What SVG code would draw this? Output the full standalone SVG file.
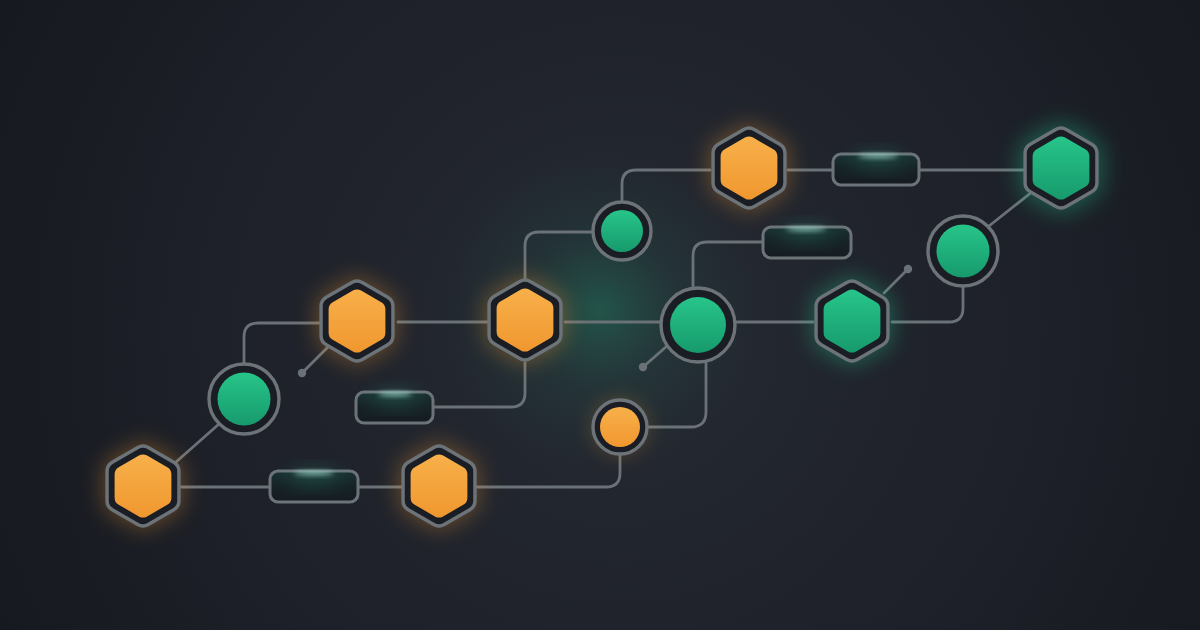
<svg xmlns="http://www.w3.org/2000/svg" width="1200" height="630" viewBox="0 0 1200 630">
<defs>
  <radialGradient id="bg" cx="620" cy="330" r="720" gradientUnits="userSpaceOnUse">
    <stop offset="0" stop-color="#262a33"/>
    <stop offset="0.6" stop-color="#1d2028"/>
    <stop offset="1" stop-color="#15181e"/>
  </radialGradient>
  <radialGradient id="cglow" cx="600" cy="310" r="160" gradientUnits="userSpaceOnUse">
    <stop offset="0" stop-color="#1f8a68" stop-opacity="0.45"/>
    <stop offset="0.5" stop-color="#1f6e58" stop-opacity="0.15"/>
    <stop offset="1" stop-color="#1f6e58" stop-opacity="0"/>
  </radialGradient>
  <linearGradient id="og" x1="0" y1="0" x2="0" y2="1">
    <stop offset="0" stop-color="#f8b04a"/>
    <stop offset="1" stop-color="#f0972f"/>
  </linearGradient>
  <linearGradient id="gg" x1="0" y1="0" x2="0" y2="1">
    <stop offset="0" stop-color="#27c58a"/>
    <stop offset="1" stop-color="#179a6d"/>
  </linearGradient>
  <linearGradient id="pg" x1="0" y1="0" x2="0" y2="1">
    <stop offset="0" stop-color="#1a3233"/>
    <stop offset="0.5" stop-color="#172226"/>
    <stop offset="1" stop-color="#161c21"/>
  </linearGradient>
  <filter id="blur" x="-1" y="-1" width="3" height="3"><feGaussianBlur stdDeviation="10"/></filter>
  <filter id="blur2" x="-1" y="-1" width="3" height="3"><feGaussianBlur stdDeviation="2.5"/></filter>
  <path id="hexO" d="M5.2,-38.5 L30.74,-23.75 Q35.94,-20.75 35.94,-14.75 L35.94,14.75 Q35.94,20.75 30.74,23.75 L5.2,38.5 Q0,41.5 -5.2,38.5 L-30.74,23.75 Q-35.94,20.75 -35.94,14.75 L-35.94,-14.75 Q-35.94,-20.75 -30.74,-23.75 L-5.2,-38.5 Q0,-41.5 5.2,-38.5 Z"/>
  <style>
    .edge{fill:none;stroke:#6b7277;stroke-width:2.8;stroke-linecap:round}
    .dot{fill:#6b7277}
    .ring{fill:#1a1d23;stroke:#6d7479;stroke-width:3.4;stroke-linejoin:round}
    .oin{fill:url(#og)}
    .gin{fill:url(#gg)}
    .oglow{fill:#f39a2e;opacity:0.35;filter:url(#blur)}
    .gglow{fill:#20c08a;opacity:0.4;filter:url(#blur)}
    .pill{fill:url(#pg);stroke:#6d7479;stroke-width:3}
    .hl{fill:#b8f0e4;opacity:0.85;filter:url(#blur2)}
    .hl2{fill:#2fae8e;opacity:0.35;filter:url(#blur)}
  </style>
</defs>
<rect width="1200" height="630" fill="url(#bg)"/>
<rect width="1200" height="630" fill="url(#cglow)"/>

<g id="connectors">
  <path class="edge" d="M181,487 H401"/>
  <path class="edge" d="M176,462 L219,424"/>
  <path class="edge" d="M244,364 V337 Q244,323 258,323 H319"/>
  <path class="edge" d="M398,322 H487"/>
  <path class="edge" d="M525,279 V246 Q525,232 539,232 H593"/>
  <path class="edge" d="M525,363 V393 Q525,407 511,407 H433"/>
  <path class="edge" d="M565,322 H660"/>
  <path class="edge" d="M622,200 V184 Q622,170 636,170 H710"/>
  <path class="edge" d="M788,170 H1023"/>
  <path class="edge" d="M1032,192 L989,226"/>
  <path class="edge" d="M693,288 V256 Q693,242 707,242 H763"/>
  <path class="edge" d="M736,322 H813"/>
  <path class="edge" d="M892,322 H949 Q963,322 963,308 V287"/>
  <path class="edge" d="M706,361 V412 Q706,427 691,427 H648"/>
  <path class="edge" d="M620,455 V473 Q620,487 606,487 H477"/>
  <path class="edge" d="M329,346 L302,373"/>
  <circle class="dot" cx="302" cy="373" r="4.2"/>
  <path class="edge" d="M667,346 L643,367"/>
  <circle class="dot" cx="643" cy="367" r="4.2"/>
  <path class="edge" d="M884,293 L908,269"/>
  <circle class="dot" cx="908" cy="269" r="4.2"/>
</g>

<g id="nodeA" transform="translate(143,486)">
  <use href="#hexO" class="oglow" transform="scale(1.1)"/>
  <use href="#hexO" class="ring"/>
  <use href="#hexO" class="oin" transform="scale(0.79)"/>
</g>
<g id="nodeB" transform="translate(244,399)">
  <circle r="35" class="ring"/>
  <circle r="26.5" class="gin"/>
</g>
<g id="nodeC" transform="translate(357,321)">
  <use href="#hexO" class="oglow" transform="scale(1.1)"/>
  <use href="#hexO" class="ring"/>
  <use href="#hexO" class="oin" transform="scale(0.79)"/>
</g>
<g id="nodeD" transform="translate(525,320)">
  <use href="#hexO" class="oglow" transform="scale(1.1)"/>
  <use href="#hexO" class="ring"/>
  <use href="#hexO" class="oin" transform="scale(0.79)"/>
</g>
<g id="nodeE" transform="translate(622,231)">
  <circle r="29" class="ring"/>
  <circle r="21" class="gin"/>
</g>
<g id="nodeF" transform="translate(749,168)">
  <use href="#hexO" class="oglow" transform="scale(1.1)"/>
  <use href="#hexO" class="ring"/>
  <use href="#hexO" class="oin" transform="scale(0.79)"/>
</g>
<g id="nodeG">
  <rect class="pill" x="833" y="154" width="86" height="31" rx="8"/>
  <ellipse class="hl2" cx="878" cy="160" rx="26" ry="6"/>
  <ellipse class="hl" cx="878" cy="156" rx="20" ry="1.8"/>
</g>
<g id="nodeH" transform="translate(1061,168)">
  <use href="#hexO" class="gglow" transform="scale(1.15)"/>
  <use href="#hexO" class="ring"/>
  <use href="#hexO" class="gin" transform="scale(0.79)"/>
</g>
<g id="nodeI" transform="translate(963,251)">
  <circle r="35" class="ring"/>
  <circle r="26.5" class="gin"/>
</g>
<g id="nodeJ">
  <rect class="pill" x="763" y="227" width="88" height="31" rx="8"/>
  <ellipse class="hl2" cx="806" cy="233" rx="26" ry="6"/>
  <ellipse class="hl" cx="806" cy="229" rx="20" ry="1.8"/>
</g>
<g id="nodeK" transform="translate(698,325)">
  <circle r="37" class="ring"/>
  <circle r="28" class="gin"/>
</g>
<g id="nodeL" transform="translate(852,321)">
  <use href="#hexO" class="gglow" transform="scale(1.1)"/>
  <use href="#hexO" class="ring"/>
  <use href="#hexO" class="gin" transform="scale(0.79)"/>
</g>
<g id="nodeM" transform="translate(620,427)">
  <circle r="28" fill="#f39a2e" opacity="0.25" filter="url(#blur)"/>
  <circle r="27" class="ring"/>
  <circle r="20" class="oin"/>
</g>
<g id="nodeN" transform="translate(439,486)">
  <use href="#hexO" class="oglow" transform="scale(1.1)"/>
  <use href="#hexO" class="ring"/>
  <use href="#hexO" class="oin" transform="scale(0.79)"/>
</g>
<g id="nodeO">
  <rect class="pill" x="356" y="392" width="77" height="31" rx="8"/>
  <ellipse class="hl2" cx="395" cy="398" rx="24" ry="6"/>
  <ellipse class="hl" cx="395" cy="394" rx="17" ry="1.8"/>
</g>
<g id="nodeP">
  <rect class="pill" x="270" y="471" width="88" height="31" rx="8"/>
  <ellipse class="hl2" cx="314" cy="477" rx="26" ry="6"/>
  <ellipse class="hl" cx="314" cy="473" rx="20" ry="1.8"/>
</g>
</svg>
